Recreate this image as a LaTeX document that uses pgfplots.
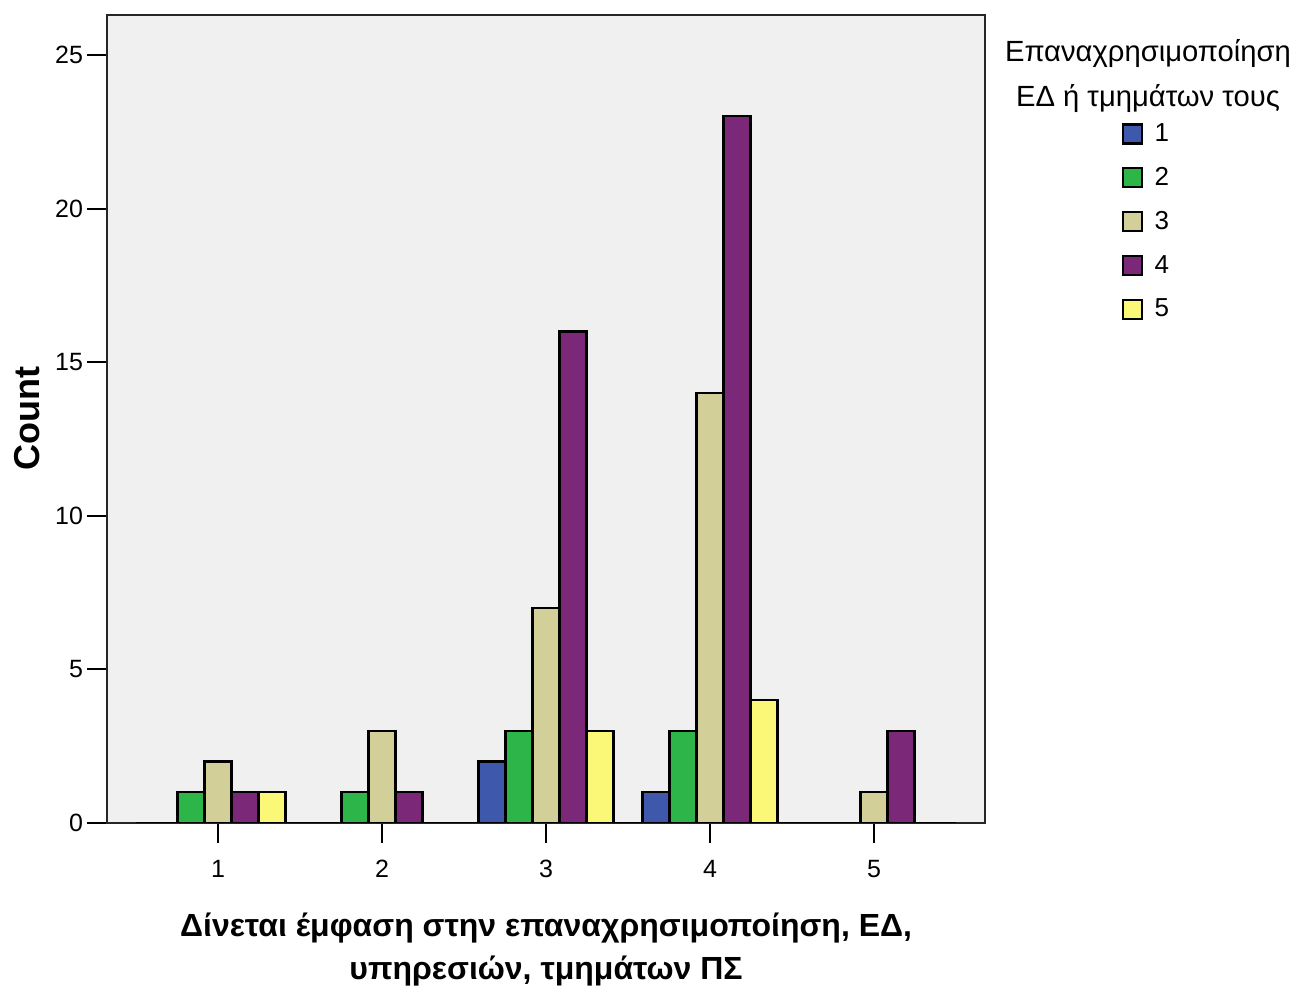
\documentclass[border=0pt]{standalone}
\usepackage{fontspec}
\setmainfont{Liberation Sans}
\usepackage{pgfplots}
\pgfplotsset{compat=1.18}
\usetikzlibrary{calc}
\definecolor{bg}{RGB}{240,240,240}
\definecolor{c1}{RGB}{62,88,172}
\definecolor{c2}{RGB}{46,181,74}
\definecolor{c3}{RGB}{211,207,152}
\definecolor{c4}{RGB}{123,40,120}
\definecolor{c5}{RGB}{250,248,118}

\begin{document}
\begin{tikzpicture}
\begin{axis}[
name=ax,
scale only axis, width=439pt, height=404pt,
xmin=0.323, xmax=5.677, ymin=0, ymax=26.3,
ybar=0pt, bar width=13.5pt,
xtick={1,2,3,4,5}, ytick={0,5,10,15,20,25},
tick align=outside, tick pos=left, major tick length=10pt,
every tick/.style={black, line width=1pt},
axis line style={black!85, line width=0.6pt},
axis background/.style={fill=bg},
/pgf/number format/assume math mode=true,
ticklabel style={font=\fontsize{12.5}{15}\selectfont},
xticklabel style={yshift=-5pt},
yticklabel style={xshift=1.5pt},
ylabel={\textbf{Count}},
ylabel style={font=\fontsize{18}{20}\selectfont, yshift=1pt},
xlabel={Δίνεται έμφαση στην επαναχρησιμοποίηση, ΕΔ,\\υπηρεσιών, τμημάτων ΠΣ},
xlabel style={font=\bfseries\fontsize{16}{21.5}\selectfont, align=center, yshift=-10.5pt},
legend style={at={(1.155,0.871)}, anchor=north west, draw=none, fill=none,
  inner sep=0pt, font=\fontsize{13}{15}\selectfont, row sep=7.4pt,
  nodes={inner xsep=6pt}},
legend cell align=left,
legend image code/.code={\draw[#1, draw=black, line width=1.1pt] (0pt,-4.75pt) rectangle (9.5pt,4.75pt);},
every axis plot/.append style={draw=black, line width=1.1pt},
]
\addplot[fill=c1] coordinates {(1,0)(2,0)(3,2)(4,1)(5,0)};
\addplot[fill=c2] coordinates {(1,1)(2,1)(3,3)(4,3)(5,0)};
\addplot[fill=c3] coordinates {(1,2)(2,3)(3,7)(4,14)(5,1)};
\addplot[fill=c4] coordinates {(1,1)(2,1)(3,16)(4,23)(5,3)};
\addplot[fill=c5] coordinates {(1,1)(2,0)(3,3)(4,4)(5,0)};
\legend{1,2,3,4,5}
\draw[black, line width=1.2pt] (axis cs:0.5,0) -- (axis cs:5.5,0);
\end{axis}
\node[align=center, font=\fontsize{14.6}{22.5}\selectfont] at ($(ax.south west)!1.1856!(ax.south east) + (0,{0.925*404pt})$) {Επαναχρησιμοποίηση\\ΕΔ ή τμημάτων τους};
\pgfresetboundingbox
\path (ax.south west) ++(-53.5pt,-82.5pt) rectangle ($(ax.north east)+(154.5pt,7.5pt)$);
\end{tikzpicture}
\end{document}
